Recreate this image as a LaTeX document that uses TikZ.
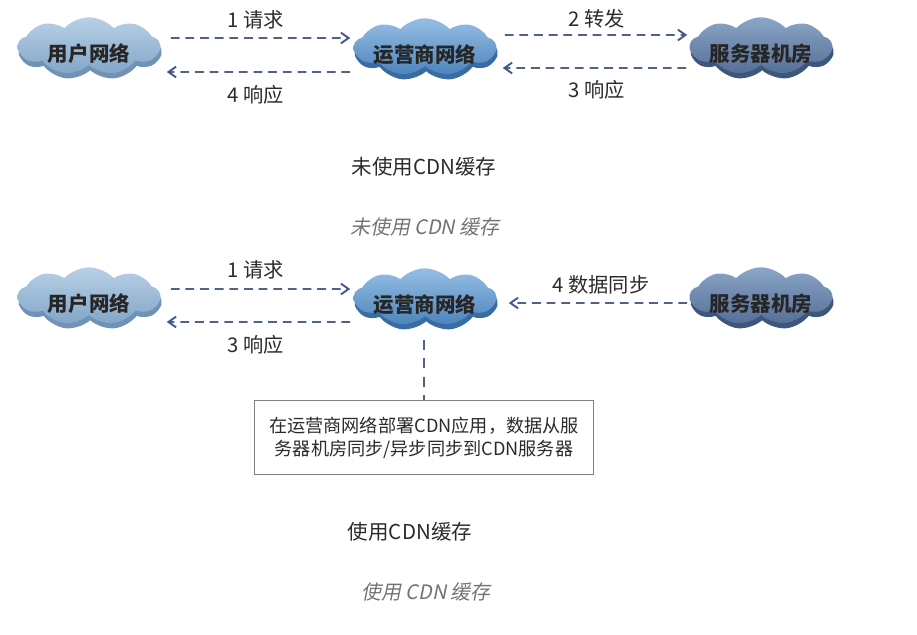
\documentclass[tikz,border=0pt]{standalone}
\usepackage{fontspec}
\setmainfont{Noto Sans CJK SC}
\newfontfamily\capfont[FakeSlant=0.2]{Noto Sans CJK SC}
\usepackage{tikz}
\usetikzlibrary{calc}
\usetikzlibrary{arrows.meta}
\usetikzlibrary{shapes}
\usetikzlibrary{shadows}
\definecolor{flowblue}{HTML}{4F6484}
\definecolor{inktext}{HTML}{2B2B2B}
\newcommand{\cloudtext}[1]{\raisebox{-13pt}[0pt][0pt]{\makebox[0pt]{#1}}}
\tikzset{
	net/.style={
		cloud,
		cloud puffs=9,
		cloud puff arc=95,
		aspect=2.6,
		minimum width=121pt,
		minimum height=49pt,
		inner sep=0pt,
		text=black!85,
		font=\fontsize{17.5}{20}\selectfont\bfseries,
	},
	usernet/.style={
		net,
		top color={rgb,255:red,184;green,208;blue,230},
		bottom color={rgb,255:red,130;green,166;blue,200},
		copy shadow={shadow xshift=1pt,shadow yshift=-4.5pt,fill={rgb,255:red,112;green,146;blue,182},draw=none},
	},
	opsnet/.style={
		net,
		top color={rgb,255:red,150;green,190;blue,228},
		bottom color={rgb,255:red,78;green,132;blue,188},
		copy shadow={shadow xshift=1pt,shadow yshift=-4.5pt,fill={rgb,255:red,56;green,108;blue,164},draw=none},
	},
	roomnet/.style={
		net,
		top color={rgb,255:red,140;green,166;blue,200},
		bottom color={rgb,255:red,84;green,110;blue,150},
		copy shadow={shadow xshift=1pt,shadow yshift=-4.5pt,fill={rgb,255:red,62;green,86;blue,126},draw=none},
	},
	flow/.style={
		draw=flowblue,
		line width=1.5pt,
		dash pattern=on 7.5pt off 5pt,
		-{Straight Barb[angle=70:8pt 0,color=flowblue!85!blue,line width=1.6pt]},
	},
	link/.style={
		draw=flowblue,
		line width=1.5pt,
		dash pattern=on 8.5pt off 7pt,
	},
	step label/.style={
		text=inktext,
		font=\fontsize{17.3}{20}\selectfont,
	},
	heading/.style={
		text=inktext,
		font=\fontsize{17.5}{20}\selectfont,
	},
	caption/.style={
		text=black!55,
		font=\fontsize{17}{20}\selectfont\capfont,
	},
	note/.style={
		draw=black!50,
		line width=1pt,
		minimum width=289pt,
		minimum height=63pt,
		align=center,
		text=inktext,
		font=\fontsize{15.5}{19.5}\selectfont,
	},
}

\begin{document}
\begin{tikzpicture}[x=0.03cm,y=-0.03cm]
	\useasboundingbox (0,0) rectangle (917,634);

	% without cache
	\node[usernet] (user1) at (89,46) {\cloudtext{用户网络}};
	\node[opsnet] (ops1) at (425,47) {\cloudtext{运营商网络}};
	\node[roomnet] (room1) at (761,46) {\cloudtext{服务器机房}};

	\node[step label] (req1) at (256,20) {1 请求};
	\node[step label] (resp1) at (256,95) {4 响应};
	\node[step label] (fwd1) at (597,19) {2 转发};
	\node[step label] (back1) at (597,90) {3 响应};

	\node[heading] (title1) at (424,167) {未使用CDN缓存};
	\node[caption] (cap1) at (425,227) {未使用 CDN 缓存};

	\draw[flow] ($(user1.east)+(10,-8)$) -- ($(ops1.west)+(-3,-9)$);
	\draw[flow] ($(ops1.west)+(-3,25)$) -- ($(user1.east)+(6,26)$);
	\draw[flow] ($(ops1.east)+(8,-12)$) -- ($(room1.west)+(-2,-11)$);
	\draw[flow] ($(room1.west)+(-3,22)$) -- ($(ops1.east)+(6,21)$);

	% with cache
	\node[usernet] (user2) at (89,296) {\cloudtext{用户网络}};
	\node[opsnet] (ops2) at (425,297) {\cloudtext{运营商网络}};
	\node[roomnet] (room2) at (761,296) {\cloudtext{服务器机房}};

	\node[step label] (req2) at (256,270) {1 请求};
	\node[step label] (resp2) at (256,345) {3 响应};
	\node[step label] (sync2) at (601,285) {4 数据同步};

	\node[note] (box) at (424,437.5) {在运营商网络部署CDN应用，数据从服\\务器机房同步/异步同步到CDN服务器};

	\node[heading] (title2) at (410,532) {使用CDN缓存};
	\node[caption] (cap2) at (426,592) {使用 CDN 缓存};

	\draw[flow] ($(user2.east)+(10,-7)$) -- ($(ops2.west)+(-3,-8)$);
	\draw[flow] ($(ops2.west)+(-3,25)$) -- ($(user2.east)+(6,26)$);
	\draw[flow] ($(room2.west)+(-2,7)$) -- ($(ops2.east)+(12,6)$);
	\draw[link] ($(ops2.south)+(-1,24)$) -- (box.north -| {$(ops2.south)+(-1,0)$});

\end{tikzpicture}
\end{document}
